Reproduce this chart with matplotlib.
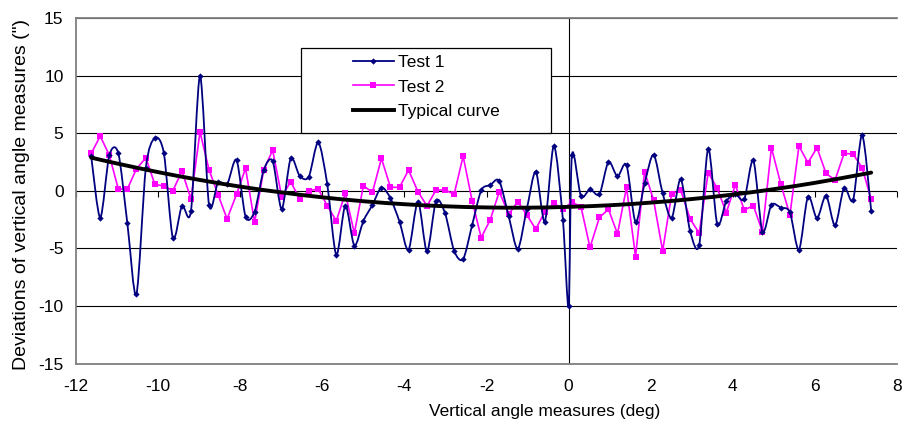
import numpy as np
import matplotlib
matplotlib.use("Agg")
import matplotlib.pyplot as plt
from matplotlib.path import Path
from matplotlib.patches import PathPatch, Rectangle
from matplotlib.lines import Line2D

plt.rcParams['font.family'] = ['Liberation Sans', 'DejaVu Sans']
plt.rcParams['axes.unicode_minus'] = False

# ---------------- data ----------------
x_test2 = [-11.63, -11.41, -11.19, -10.97, -10.75, -10.53, -10.30, -10.08, -9.86, -9.64,
           -9.42, -9.20, -8.98, -8.76, -8.54, -8.32, -8.09, -7.87, -7.65, -7.43,
           -7.21, -6.99, -6.77, -6.55, -6.33, -6.10, -5.88, -5.66, -5.44, -5.22,
           -5.00, -4.78, -4.56, -4.34, -4.12, -3.90, -3.67, -3.45, -3.23, -3.01,
           -2.79, -2.57, -2.35, -2.13, -1.91, -1.69, -1.46, -1.24, -1.02, -0.80,
           -0.58, -0.36, -0.14, 0.08, 0.30, 0.52, 0.75, 0.97, 1.19, 1.41,
           1.63, 1.85, 2.07, 2.29, 2.51, 2.73, 2.96, 3.18, 3.40, 3.62,
           3.84, 4.06, 4.28, 4.50, 4.72, 4.94, 5.17, 5.39, 5.61, 5.83,
           6.05, 6.27, 6.49, 6.71, 6.93, 7.15, 7.37]

x_test1 = [-11.63, -11.41, -11.19, -10.97, -10.75, -10.53, -10.30, -10.08, -9.86, -9.64,
           -9.42, -9.20, -8.98, -8.76, -8.54, -8.32, -8.09, -7.87, -7.65, -7.43,
           -7.21, -6.99, -6.77, -6.55, -6.33, -6.10, -5.88, -5.66, -5.44, -5.22,
           -5.00, -4.78, -4.56, -4.34, -4.12, -3.90, -3.67, -3.45, -3.23, -3.01,
           -2.79, -2.57, -2.35, -2.13, -1.91, -1.69, -1.46, -1.24, -1.02, -0.80,
           -0.58, -0.36, -0.14, 0.00, 0.08, 0.30, 0.52, 0.75, 0.97, 1.19, 1.41,
           1.63, 1.85, 2.07, 2.29, 2.51, 2.73, 2.96, 3.18, 3.40, 3.62,
           3.84, 4.06, 4.28, 4.50, 4.72, 4.94, 5.17, 5.39, 5.61, 5.83,
           6.05, 6.27, 6.49, 6.71, 6.93, 7.15, 7.37]

test1 = [3.0, -2.31, 3.1, 3.27, -2.8, -9.0, 2.0, 4.62, 3.27, -4.1,
         -1.3, -1.73, 10.0, -1.21, 0.75, 0.58, 2.69, -2.23, -1.79, 1.8,
         2.6, -1.56, 2.83, 1.3, 1.24, 4.22, 0.58, -5.55, -1.27, -4.74,
         -2.6, -1.21, 0.3, -0.64, -2.66, -5.12, -0.92, -5.26, -0.87, -1.94,
         -5.2, -5.92, -2.95, 0.05, 0.52, 0.87, -2.2, -5.03, -1.6, 1.68,
         -2.66, 3.93, -2.5, -10.0, 3.12, -0.45, 0.15, -0.28, 2.52, 1.27,
         2.25, -2.7, 0.66, 3.15, -0.2, -2.34, 1.02, -3.5, -4.7, 3.68,
         -2.88, -0.9, -0.3, -0.69, 2.66, -3.53, -1.2, -1.45, -1.85, -5.12,
         -0.49, -2.37, -0.4, -3.0, 0.29, -0.78, 4.86, -1.71]

test2 = [3.27, 4.77, 3.12, 0.17, 0.17, 1.91, 2.89, 0.58, 0.43, 0.03,
         1.73, -0.69, 5.14, 1.85, -0.32, -2.43, -0.29, 1.97, -2.72, 1.82,
         3.55, -0.49, 0.81, -0.72, 0.03, 0.17, -1.27, -2.6, -0.2, -3.67,
         0.46, -0.12, 2.83, 0.32, 0.32, 1.82, -0.06, -1.3, 0.09, 0.09,
         -0.29, 3.03, -0.87, -4.05, -2.51, -0.06, -2.02, -0.92, -2.08, -3.32,
         -1.79, -1.07, -1.56, -0.98, -1.36, -4.91, -2.3, -1.59, -3.73, 0.32,
         -5.7, 1.68, -0.8, -5.21, -0.25, 0.06, -2.43, -3.67, 1.6, 0.23,
         -1.88, 0.52, -1.65, -1.27, -3.53, 3.76, 0.58, -2.08, 3.9, 2.46,
         3.76, 1.53, 0.95, 3.27, 3.21, 2.02, -0.72]

curve_x = [-11.63, -11, -10, -9, -8, -7, -6, -5, -4, -3, -2, -1,
           0, 1, 2, 3, 4, 5, 6, 7, 7.37]
curve_y = [2.9, 2.39, 1.64, 0.97, 0.38, -0.12, -0.55, -0.89, -1.15, -1.33, -1.43, -1.45,
           -1.38, -1.24, -1.01, -0.70, -0.31, 0.16, 0.71, 1.35, 1.6]

x_ticks = [-12, -10, -8, -6, -4, -2, 0, 2, 4, 6, 8]
y_ticks = [-15, -10, -5, 0, 5, 10, 15]

labels = ["Test 1", "Test 2", "Typical curve"]
x_title = "Vertical angle measures (deg)"
y_title = 'Deviations of vertical angle measures (")'

NAVY = "#000080"
MAGENTA = "#FF00FF"
FS = 12.5


def smooth_path(xs, ys, k=1.0 / 7.0):
    """Excel-like smoothed line: cubic Bezier through every point."""
    p = np.column_stack([xs, ys]).astype(float)
    ext = np.vstack([p[0], p, p[-1]])
    verts = [p[0]]
    codes = [Path.MOVETO]
    for i in range(len(p) - 1):
        p0, p1, p2, p3 = ext[i], ext[i + 1], ext[i + 2], ext[i + 3]
        c1 = p1 + (p2 - p0) * k
        c2 = p2 - (p3 - p1) * k
        verts += [c1, c2, p2]
        codes += [Path.CURVE4] * 3
    return Path(verts, codes)


fig = plt.figure(figsize=(9.03, 4.28), dpi=100)
ax = fig.add_axes([0.0842, 0.1507, 0.9092, 0.8061])

ax.set_xlim(-12, 8)
ax.set_ylim(-15, 15)
ax.set_xticks(x_ticks)
ax.set_yticks(y_ticks)
ax.tick_params(axis='both', length=0, labelsize=FS)
ax.tick_params(axis='x', pad=11)
ax.tick_params(axis='y', pad=9)

ax.grid(axis='y', color='black', linewidth=0.8, zorder=0)
ax.set_axisbelow(True)
ax.axvline(0, color='black', linewidth=0.8, zorder=1)

for s in ['left', 'bottom', 'top']:
    ax.spines[s].set_color('#808080')
    ax.spines[s].set_linewidth(1.3)
ax.spines['right'].set_visible(False)

# tick marks on the y=0 axis line
sec = ax.secondary_xaxis(0.5)
sec.set_xticks(x_ticks)
sec.tick_params(axis='x', direction='out', length=4, width=0.8, color='black',
                labelbottom=False, labeltop=False, bottom=True, top=False)
for s in sec.spines.values():
    s.set_visible(False)

# Test 2 (straight segments, square markers)
ax.plot(x_test2, test2, color=MAGENTA, linewidth=1.2, marker='s', markersize=4.2,
        markeredgewidth=0, zorder=3)

# Test 1 (smoothed line, diamond markers)
ax.add_patch(PathPatch(smooth_path(x_test1, test1), facecolor='none',
                       edgecolor=NAVY, linewidth=1.3, zorder=4))
ax.plot(x_test1, test1, linestyle='none', marker='D', markersize=3.2,
        color=NAVY, markeredgewidth=0, zorder=4)

# Typical curve
ax.add_patch(PathPatch(smooth_path(curve_x, curve_y, 1.0 / 6.0), facecolor='none',
                       edgecolor='black', linewidth=2.8, zorder=5,
                       capstyle='round'))

ax.set_xlabel(x_title, fontsize=FS)
ax.set_ylabel(y_title, fontsize=14)
ax.xaxis.set_label_coords(0.5706, -0.118)
ax.yaxis.set_label_coords(-0.056, 0.49)

# legend box
ax.add_patch(Rectangle((0.274, 0.669), 0.3046, 0.245, transform=ax.transAxes,
                       facecolor='white', edgecolor='black', linewidth=0.9,
                       zorder=6))
handles = [
    Line2D([], [], color=NAVY, linewidth=1.3, marker='D', markersize=3.2,
           markeredgewidth=0),
    Line2D([], [], color=MAGENTA, linewidth=1.2, marker='s', markersize=4.2,
           markeredgewidth=0),
    Line2D([], [], color='black', linewidth=2.8),
]
leg = ax.legend(handles, labels, loc='upper left', bbox_to_anchor=(0.3374, 0.895),
                frameon=False, fontsize=FS, handlelength=2.35, handletextpad=0.25,
                labelspacing=0.55, borderpad=0, borderaxespad=0, markerfirst=True)
leg.set_zorder(7)

fig.savefig("out.png", dpi=100)
